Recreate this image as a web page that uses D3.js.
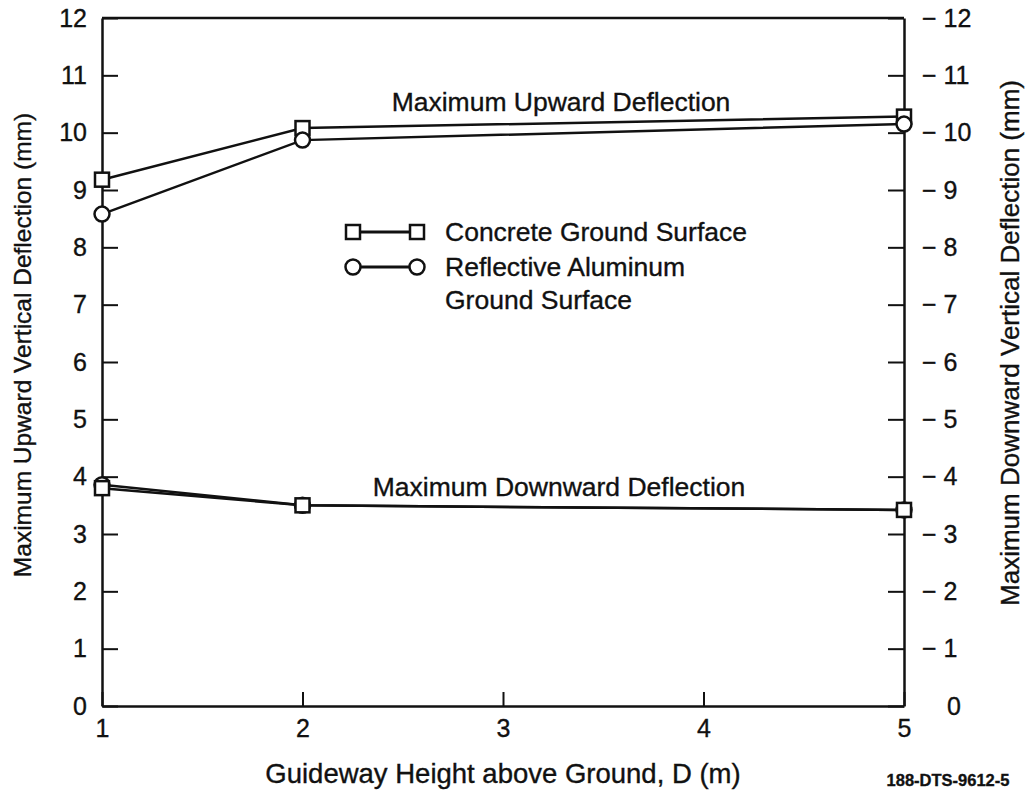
<!DOCTYPE html>
<html>
<head>
<meta charset="utf-8">
<script src="https://cdn.jsdelivr.net/npm/d3@7"></script>
<style>
  html, body { margin: 0; padding: 0; background: #fff; }
  svg text { font-family: "Liberation Sans", Arial, Helvetica, sans-serif; fill: #111; stroke: #111; stroke-width: 0.35px; }
</style>
</head>
<body>
<div id="chart"></div>
<script>
// --- Data ---
const heights = [1, 2, 5];
const concreteUp = [9.18, 10.08, 10.28];
const aluminumUp = [8.58, 9.87, 10.15];
const concreteDown = [3.80, 3.50, 3.42];
const aluminumDown = [3.86, 3.50, 3.42];

const xTickValues = [1, 2, 3, 4, 5];
const yTickValues = [0, 1, 2, 3, 4, 5, 6, 7, 8, 9, 10, 11, 12];
const rightTickValues = [0, -1, -2, -3, -4, -5, -6, -7, -8, -9, -10, -11, -12];

const legendLabels = ["Concrete Ground Surface", "Reflective Aluminum", "Ground Surface"];

document.addEventListener('DOMContentLoaded', () => {
    const width = 1029, height = 791;
    const left = 102, right = 904, top = 18, bottom = 706;

    const svg = d3.select("#chart").append("svg")
        .attr("width", width)
        .attr("height", height);

    // --- Scales ---
    const x = d3.scaleLinear().domain([1, 5]).range([left, right]);
    const y = d3.scaleLinear().domain([0, 12]).range([bottom, top]);
    const yRight = d3.scaleLinear().domain([0, -12]).range([bottom, top]);

    // --- Axes ---
    const styleAxis = g => {
        g.selectAll("path.domain").attr("stroke", "#111").attr("stroke-width", 2.5);
        g.selectAll(".tick line").attr("stroke", "#111").attr("stroke-width", 2);
        g.selectAll("text").attr("font-size", 25).attr("font-family", null).attr("fill", "#111");
    };

    svg.append("g")
        .attr("transform", `translate(0,${bottom})`)
        .call(d3.axisBottom(x).tickValues(xTickValues).tickFormat(d3.format("d"))
            .tickSizeInner(-14).tickSizeOuter(0).tickPadding(13))
        .call(styleAxis);

    svg.append("g")
        .attr("transform", `translate(${left},0)`)
        .call(d3.axisLeft(y).tickValues(yTickValues).tickFormat(d3.format("d"))
            .tickSizeInner(-16).tickSizeOuter(0).tickPadding(15))
        .call(styleAxis);

    const rightAxis = svg.append("g")
        .attr("transform", `translate(${right},0)`)
        .call(d3.axisRight(yRight).tickValues(rightTickValues)
            .tickFormat(d => d === 0 ? "0" : "\u2212 " + Math.abs(d))
            .tickSizeInner(-16).tickSizeOuter(0).tickPadding(18))
        .call(styleAxis);
    // zero label sits under the digits, not under the minus sign
    rightAxis.selectAll(".tick text").filter(d => d === 0).attr("x", 43);

    // top border
    svg.append("line")
        .attr("x1", left).attr("x2", right)
        .attr("y1", top).attr("y2", top)
        .attr("stroke", "#111").attr("stroke-width", 2.5);

    // --- Series ---
    const line = d3.line().x((d, i) => x(heights[i])).y(d => y(d));
    const series = [
        { values: concreteUp, marker: "square" },
        { values: aluminumUp, marker: "circle" },
        { values: aluminumDown, marker: "circle" },
        { values: concreteDown, marker: "square" }
    ];

    series.forEach(s => {
        svg.append("path")
            .datum(s.values)
            .attr("fill", "none")
            .attr("stroke", "#111")
            .attr("stroke-width", 2.5)
            .attr("d", line);
    });

    const drawMarker = (g, type, cx, cy) => {
        if (type === "square") {
            g.append("rect")
                .attr("x", cx - 7).attr("y", cy - 7)
                .attr("width", 14).attr("height", 14)
                .attr("fill", "#fff").attr("stroke", "#111").attr("stroke-width", 2.5);
        } else {
            g.append("circle")
                .attr("cx", cx).attr("cy", cy).attr("r", 7.5)
                .attr("fill", "#fff").attr("stroke", "#111").attr("stroke-width", 2.5);
        }
    };

    const markers = svg.append("g");
    series.forEach(s => {
        s.values.forEach((v, i) => drawMarker(markers, s.marker, x(heights[i]), y(v)));
    });

    // --- Annotations ---
    svg.append("text")
        .attr("x", 561).attr("y", 102)
        .attr("text-anchor", "middle").attr("dominant-baseline", "central")
        .attr("font-size", 26.5)
        .text("Maximum Upward Deflection");

    svg.append("text")
        .attr("x", 559).attr("y", 487)
        .attr("text-anchor", "middle").attr("dominant-baseline", "central")
        .attr("font-size", 26.5)
        .text("Maximum Downward Deflection");

    // --- Legend ---
    const legend = svg.append("g");
    const legendRows = [232, 267];
    ["square", "circle"].forEach((type, i) => {
        legend.append("line")
            .attr("x1", 353).attr("x2", 417)
            .attr("y1", legendRows[i]).attr("y2", legendRows[i])
            .attr("stroke", "#111").attr("stroke-width", 3);
        drawMarker(legend, type, 353, legendRows[i]);
        drawMarker(legend, type, 417, legendRows[i]);
    });
    legend.selectAll("text.lbl")
        .data(legendLabels)
        .enter().append("text")
        .attr("class", "lbl")
        .attr("x", 445)
        .attr("y", (d, i) => [232, 267, 300][i])
        .attr("dominant-baseline", "central")
        .attr("font-size", 26.5)
        .text(d => d);

    // --- Axis titles ---
    svg.append("text")
        .attr("transform", "translate(22,345) rotate(-90)")
        .attr("text-anchor", "middle").attr("dominant-baseline", "central")
        .attr("font-size", 24.5)
        .text("Maximum Upward Vertical Deflection (mm)");

    svg.append("text")
        .attr("transform", "translate(1010,343) rotate(-90)")
        .attr("text-anchor", "middle").attr("dominant-baseline", "central")
        .attr("font-size", 26)
        .text("Maximum Downward Vertical Deflection (mm)");

    svg.append("text")
        .attr("x", 503).attr("y", 773)
        .attr("text-anchor", "middle").attr("dominant-baseline", "central")
        .attr("font-size", 27.5)
        .text("Guideway Height above Ground, D (m)");

    svg.append("text")
        .attr("x", 948).attr("y", 780)
        .attr("text-anchor", "middle").attr("dominant-baseline", "central")
        .attr("font-size", 16.5)
        .attr("font-weight", "bold")
        .text("188-DTS-9612-5");
});
</script>
</body>
</html>
